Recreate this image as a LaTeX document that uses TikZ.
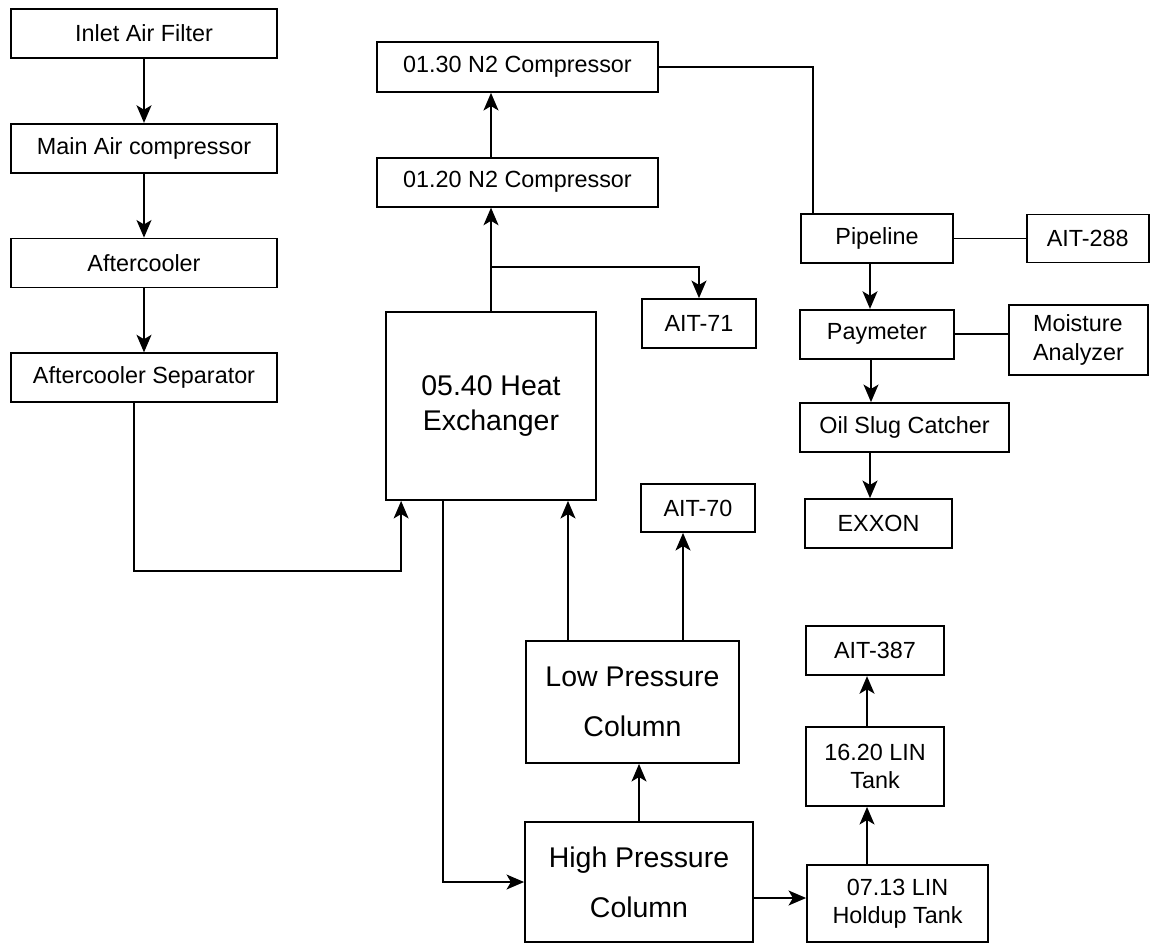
\documentclass[tikz,border=0pt]{standalone}
\usepackage{fontspec}
\setmainfont{Liberation Sans}
\usepackage{tikz}
\usetikzlibrary{positioning, calc, arrows.meta}

\begin{document}
\begin{tikzpicture}[
    node distance=1.28cm,
    unit/.style={
        rectangle, draw=black, line width=1pt, inner sep=0pt,
        minimum width=2.3cm, minimum height=0.98cm,
        align=center, font=\fontsize{13.3}{16}\selectfont
    },
    column/.style={
        rectangle, draw=black, line width=1pt, inner sep=0pt,
        align=center, font=\fontsize{16.2}{28.5}\selectfont
    },
    flow/.style={-{Stealth[length=10pt, width=8.5pt, inset=2.5pt]}, line width=1pt},
    link/.style={line width=1pt}
]
\useasboundingbox (0,0) rectangle (23,-18.9);

% 1. Air intake train (left column)
\node[unit, minimum width=5.32cm] at (2.88,-0.67) (filter) {Inlet Air Filter};
\node[unit, minimum width=5.32cm, below=of filter] (mac) {Main Air compressor};
\node[unit, minimum width=5.32cm, below=of mac] (cooler) {Aftercooler};
\node[unit, minimum width=5.32cm, below=of cooler] (sep) {Aftercooler Separator};

% 2. Cold box and nitrogen compression (middle)
\node[unit, minimum width=5.62cm, minimum height=1cm] at (10.35,-1.34) (n130) {01.30 N2 Compressor};
\node[unit, minimum width=5.62cm, below=of n130] (n120) {01.20 N2 Compressor};
\node[column, minimum width=4.2cm, minimum height=3.76cm,
      font=\fontsize{16.2}{20}\selectfont] at (9.82,-8.12) (hx) {05.40 Heat\\Exchanger};
\node[unit, minimum width=2.28cm] at (13.98,-6.47) (ait71) {AIT-71};
\node[unit, minimum width=2.28cm, minimum height=0.96cm] at (13.96,-10.16) (ait70) {AIT-70};
\node[column, minimum width=4.26cm, minimum height=2.44cm] at (12.65,-14.04) (lpc) {Low Pressure\\Column};
\node[column, minimum width=4.56cm, minimum height=2.4cm] at (12.78,-17.64) (hpc) {High Pressure\\Column};

% 3. Product side (right)
\node[unit, minimum width=3.04cm] at (17.54,-4.77) (pipe) {Pipeline};
\node[unit, minimum width=2.44cm, minimum height=0.96cm, right=1.44cm of pipe] (ait288) {AIT-288};
\node[unit, minimum width=3.08cm, below=0.9cm of pipe] (pay) {Paymeter};
\node[unit, minimum width=2.78cm, minimum height=1.4cm, align=left] at (21.57,-6.8) (moist) {Moisture\\Analyzer};
\node[unit, minimum width=4.18cm] at (18.09,-8.55) (oil) {Oil Slug Catcher};
\node[unit, minimum width=2.94cm] at (17.57,-10.47) (exxon) {EXXON};
\node[unit, minimum width=3.62cm, minimum height=1.54cm] at (17.95,-18.07) (hold) {07.13 LIN\\Holdup Tank};
\node[unit, minimum width=2.76cm, minimum height=1.58cm] at (17.5,-15.33) (tank) {16.20 LIN\\Tank};
\node[unit, minimum width=2.76cm, above=1cm of tank] (ait387) {AIT-387};

\coordinate (split) at ([yshift=0.88cm]hx.north);

% 4. Connections
\draw[flow] (filter) -- (mac);
\draw[flow] (mac) -- (cooler);
\draw[flow] (cooler) -- (sep);
\draw[flow] ([xshift=-0.2cm]sep.south) -- ++(0,-3.35) -| ([xshift=0.32cm]hx.south west);

\draw[flow] (hx) -- (hx |- n120.south);
\draw[flow] (split) -| (ait71);
\draw[flow] (n120.north -| hx.north) -- (n130.south -| hx.north);
\draw[link] (n130.east) -| ([xshift=0.26cm]pipe.north west);

\draw[flow] ([xshift=-1.29cm]lpc.north) -- ([xshift=-1.29cm]lpc.north |- hx.south);
\draw[flow] ([xshift=-0.3cm]ait70.south |- lpc.north) -- ([xshift=-0.3cm]ait70.south);
\draw[flow] (hpc) -- (hpc |- lpc.south);
\draw[flow] ([xshift=-0.96cm]hx.south) |- (hpc);
\draw[flow] ([yshift=-0.32cm]hpc.east) -- ([yshift=-0.32cm]hpc.east -| hold.west);

\draw[flow] ([xshift=-0.16cm]hold.north -| tank) -- ([xshift=-0.16cm]tank.south);
\draw[flow] ([xshift=-0.16cm]tank.north) -- ([xshift=-0.16cm]ait387.south);

\draw[link] (pipe.east) -- (pipe.east -| ait288.west);
\draw[flow] ([xshift=-0.14cm]pipe.south) -- ([xshift=-0.14cm]pipe.south |- pay.north);
\draw[link] (pay.east) -- (pay.east -| moist.west);
\draw[flow] ([xshift=-0.12cm]pay.south) -- ([xshift=-0.12cm]pay.south |- oil.north);
\draw[flow] ([xshift=-0.17cm]exxon.north |- oil.south) -- ([xshift=-0.17cm]exxon.north);

\end{tikzpicture}
\end{document}
